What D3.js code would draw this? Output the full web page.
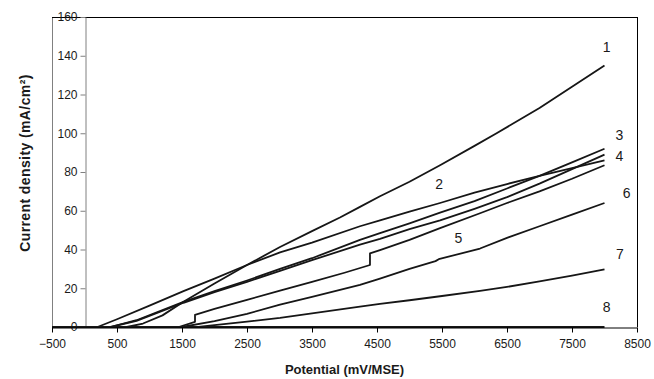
<!DOCTYPE html>
<html>
<head>
<meta charset="utf-8">
<script src="https://cdn.jsdelivr.net/npm/d3@7"></script>
<style>
  body { margin: 0; background: #fff; }
  svg { display: block; font-family: Arial, "Liberation Sans", sans-serif; }
</style>
</head>
<body>
<div id="chart"></div>
<script>
// data (potential in mV/MSE, current density in mA/cm2)
const pot1 = [650, 900, 1200, 1523, 2000, 2500, 3008, 3500, 3930, 4238, 4546, 5000, 5470, 6000, 6340, 7000, 7500, 8000];
const cur1 = [0, 1.8, 6, 13, 22.5, 32, 41.3, 49.5, 56.5, 62, 67.5, 75, 83.5, 93.5, 100, 113, 124, 135];

const pot2 = [200, 500, 1000, 1523, 2000, 2500, 3008, 3500, 4238, 4546, 5000, 5470, 6000, 6500, 7000, 7500, 8000];
const cur2 = [0, 4, 11, 18.5, 25, 32, 38.5, 43.5, 52, 55, 59.5, 64, 69.3, 73.8, 78, 82, 86];

const pot3 = [400, 800, 1523, 2000, 2500, 3008, 3500, 4238, 4546, 5000, 5470, 6000, 6500, 7000, 7500, 8000];
const cur3 = [0, 3.5, 13, 18.5, 24, 30, 35.5, 45, 48.5, 53.5, 59, 65, 71.5, 78, 85, 92];

const pot4 = [400, 800, 1523, 2000, 2500, 3008, 3500, 4238, 4546, 5000, 5470, 6000, 6500, 7000, 7500, 8000];
const cur4 = [0, 3.2, 12.5, 18, 23.3, 29, 34.5, 42.5, 45.5, 50.5, 55, 61, 67, 74, 81.5, 89];

const pot5 = [1450, 1700, 1700, 2000, 2500, 3008, 3500, 4000, 4392, 4392, 4546, 5000, 5470, 6085, 6500, 7000, 7500, 8000];
const cur5 = [0, 2.7, 6.3, 9.3, 14, 18.8, 23.3, 28, 32, 38, 39.7, 45, 51, 58.7, 64, 70, 76.5, 83.5];

const pot6 = [1500, 2000, 2500, 3008, 3500, 4238, 4546, 5000, 5400, 5450, 6085, 6500, 7000, 7500, 8000];
const cur6 = [0, 3, 6.8, 11.5, 15.5, 21.7, 25, 30, 34, 35, 40.5, 46, 52, 58, 64];

const pot7 = [1750, 2000, 2500, 3008, 3500, 4238, 4546, 5000, 5500, 6085, 6500, 7000, 7500, 8000];
const cur7 = [0, 1, 2.8, 4.7, 7, 10.5, 11.9, 13.8, 16, 18.6, 20.7, 23.5, 26.5, 29.8];

const pot8 = [-500, 8000];
const cur8 = [0, 0];

const curveNames = ['1', '2', '3', '4', '5', '6', '7', '8'];
const potAll = [pot1, pot2, pot3, pot4, pot5, pot6, pot7, pot8];
const curAll = [cur1, cur2, cur3, cur4, cur5, cur6, cur7, cur8];

// label anchors (potential, current) for each curve name
const labelPot = [8034, 5458, 8228, 8228, 5751, 8342, 8238, 8034];
const labelCur = [144.7, 73.7, 99, 88.3, 45.8, 69, 37.7, 10.5];

const xTicks = [-500, 500, 1500, 2500, 3500, 4500, 5500, 6500, 7500, 8500];
const yTicks = [0, 20, 40, 60, 80, 100, 120, 140, 160];

const W = 654, H = 379;
const plotL = 52, plotR = 637, plotT = 17, plotB = 327;

const svg = d3.select('#chart').append('svg').attr('width', W).attr('height', H);

const x = d3.scaleLinear().domain([-500, 8500]).range([plotL, plotR]);
const y = d3.scaleLinear().domain([0, 160]).range([plotB, plotT]);

// plot frame: gray left, black top/right
svg.append('line')
  .attr('x1', plotL + 0.5).attr('x2', plotL + 0.5)
  .attr('y1', plotT).attr('y2', plotB)
  .attr('stroke', '#808080').attr('stroke-width', 1);
svg.append('line')
  .attr('x1', plotL).attr('x2', plotR)
  .attr('y1', plotT + 0.5).attr('y2', plotT + 0.5)
  .attr('stroke', '#000').attr('stroke-width', 1);
svg.append('line')
  .attr('x1', plotR + 0.5).attr('x2', plotR + 0.5)
  .attr('y1', plotT).attr('y2', plotB)
  .attr('stroke', '#000').attr('stroke-width', 1);

// value axis crosses at potential 0
const axisY = svg.append('g')
  .attr('transform', `translate(${Math.round(x(0)) + 0.5},0)`)
  .call(d3.axisLeft(y).tickValues(yTicks).tickFormat(d3.format('d'))
    .tickSize(5).tickPadding(3).tickSizeOuter(0));
axisY.select('.domain').attr('stroke', '#808080');
axisY.selectAll('.tick line').attr('stroke', '#808080');
axisY.selectAll('text').attr('font-size', 12).attr('fill', '#1a1a1a')
  .attr('font-family', 'Arial, "Liberation Sans", sans-serif');

// curves
const line = d3.line().x((d) => x(d[0])).y((d) => y(d[1]));
curveNames.forEach((name, i) => {
  const pts = potAll[i].map((p, j) => [p, curAll[i][j]]);
  svg.append('path')
    .datum(pts)
    .attr('d', line)
    .attr('fill', 'none')
    .attr('stroke', '#161616')
    .attr('stroke-width', name === '8' ? 2 : 1.8)
    .attr('stroke-linejoin', 'round');
});

// category axis
const axisX = svg.append('g')
  .attr('transform', `translate(0,${plotB + 0.5})`)
  .call(d3.axisBottom(x).tickValues(xTicks).tickFormat(d3.format('d'))
    .tickSize(5).tickPadding(7).tickSizeOuter(0));
axisX.select('.domain').attr('stroke', '#000');
axisX.selectAll('.tick line').attr('stroke', '#000');
axisX.selectAll('text').attr('font-size', 12).attr('fill', '#1a1a1a')
  .attr('font-family', 'Arial, "Liberation Sans", sans-serif');

// curve labels
svg.selectAll('.curveLabel')
  .data(curveNames)
  .join('text')
  .attr('class', 'curveLabel')
  .attr('x', (d, i) => x(labelPot[i]))
  .attr('y', (d, i) => y(labelCur[i]))
  .attr('dy', '0.35em')
  .attr('text-anchor', 'middle')
  .attr('font-size', 14)
  .attr('fill', '#1a1a1a')
  .text((d) => d);

// axis titles
svg.append('text')
  .attr('x', (plotL + plotR) / 2)
  .attr('y', 374)
  .attr('text-anchor', 'middle')
  .attr('font-size', 13)
  .attr('font-weight', 'bold')
  .attr('fill', '#1a1a1a')
  .text('Potential (mV/MSE)');

svg.append('text')
  .attr('transform', 'translate(25,163) rotate(-90)')
  .attr('dy', '0.35em')
  .attr('text-anchor', 'middle')
  .attr('font-size', 14)
  .attr('letter-spacing', 0.4)
  .attr('font-weight', 'bold')
  .attr('fill', '#1a1a1a')
  .text('Current density (mA/cm²)');
</script>
</body>
</html>
